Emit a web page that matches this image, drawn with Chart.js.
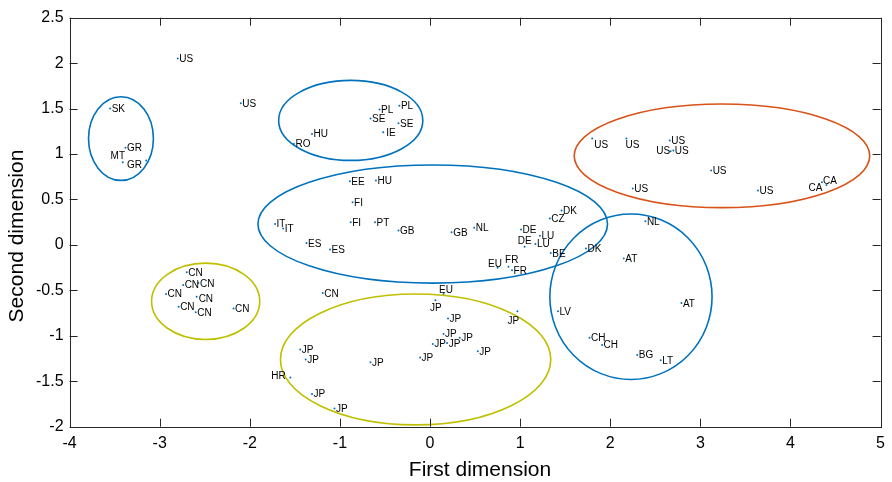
<!DOCTYPE html>
<html>
<head>
<meta charset="utf-8">
<script src="https://cdn.jsdelivr.net/npm/chart.js@4.4.1/dist/chart.umd.min.js"></script>
<style>
    html, body { margin: 0; padding: 0; background: #fff; }
    #wrap { width: 892px; height: 482px; }
</style>
</head>
<body>
<div id="wrap"><canvas id="mdsChart" width="892" height="482"></canvas></div>
<script>
// country labels and their two MDS coordinates
const countries = ['US','US','SK','GR','MT','GR','PL','PL','SE','SE',
    'IE','HU','RO','US','US','US','US','US','US','US',
    'CA','CA','EE','HU','FI','FI','PT','GB','IT','IT',
    'ES','ES','GB','NL','DE','DE','LU','LU','CZ','DK',
    'BE','DK','AT','EU','FR','FR','US','NL','AT','LV',
    'CH','CH','BG','LT','CN','CN','CN','CN','CN','CN',
    'CN','CN','CN','EU','JP','JP','JP','JP','JP','JP',
    'JP','JP','JP','JP','JP','JP','HR','JP','JP'];
const dim1 = [-2.80,-2.10,-3.55,-3.38,-3.41,-3.15,-0.56,-0.34,-0.66,-0.35,
    -0.52,-1.31,-1.51,1.80,2.18,2.66,2.67,2.70,3.12,3.64,
    4.40,4.35,-0.89,-0.60,-0.86,-0.88,-0.61,-0.35,-1.72,-1.63,
    -1.37,-1.11,0.24,0.49,1.01,1.05,1.22,1.17,1.33,1.46,
    1.34,1.73,2.15,0.75,0.87,0.91,2.25,2.39,2.79,1.42,
    1.77,1.91,2.30,2.56,-2.70,-2.74,-2.57,-2.93,-2.59,-2.79,
    -2.60,-2.18,-1.19,0.15,0.06,0.20,0.97,0.15,0.03,0.19,
    0.33,0.53,-0.11,-0.66,-1.44,-1.38,-1.55,-1.31,-1.06];
const dim2 = [2.05,1.56,1.50,1.07,0.91,0.93,1.49,1.53,1.39,1.34,
    1.24,1.22,1.11,1.17,1.17,1.15,1.03,1.04,0.82,0.60,
    0.66,0.69,0.70,0.71,0.47,0.25,0.25,0.16,0.23,0.18,
    0.02,-0.05,0.14,0.19,0.17,-0.02,0.10,0.01,0.29,0.38,
    -0.09,-0.04,-0.15,-0.25,-0.24,-0.28,0.62,0.26,-0.64,-0.73,
    -1.02,-1.10,-1.21,-1.27,-0.30,-0.44,-0.42,-0.54,-0.57,-0.68,
    -0.74,-0.70,-0.53,-0.54,-0.61,-0.81,-0.73,-0.98,-1.09,-1.08,
    -1.02,-1.17,-1.24,-1.29,-1.15,-1.26,-1.46,-1.64,-1.80];

// cluster ellipses (centre and half axes, in data units)
const groupCx = [-3.43, -0.88, 3.24, 0.03, 2.23, -2.49, -0.16];
const groupCy = [1.17, 1.37, 0.98, 0.23, -0.57, -0.62, -1.26];
const groupRx = [0.36, 0.80, 1.64, 1.94, 0.90, 0.60, 1.50];
const groupRy = [0.46, 0.44, 0.57, 0.65, 0.91, 0.42, 0.72];
const groupColors = ['#0072BD','#0072BD','#D95319','#0072BD','#0072BD','#BFBF00','#BFBF00'];

const xTicks = [-4, -3, -2, -1, 0, 1, 2, 3, 4, 5];
const yTicks = [-2, -1.5, -1, -0.5, 0, 0.5, 1, 1.5, 2, 2.5];

// labels that sit somewhere other than just right of their dot: [dx, dy, align]
const labelShift = {
    4: [2.3, -5.6, 'right'], 5: [-4.3, 5, 'right'], 10: [3, 1, 'left'],
    13: [2, 7, 'left'], 14: [-1, 7, 'left'], 16: [-0.5, 0, 'right'],
    20: [-4, 3, 'right'], 21: [1, -1, 'left'], 35: [0, -5.7, 'center'],
    43: [-2.7, -3.3, 'center'], 44: [-3.3, -6.7, 'left'], 58: [2, 3, 'left'],
    63: [2.4, -4, 'center'], 64: [0.5, 8.3, 'center'], 66: [-4, 10.4, 'center'],
    76: [-4.7, -1, 'right']
};

const fontFamily = "'Liberation Sans', Arial, Helvetica, sans-serif";
const axisColor = '#262626';

const points = dim1.map((x, i) => ({ x: x, y: dim2[i] }));

const boxPlugin = {
    id: 'boxPlugin',
    afterDatasetsDraw(chart) {
        const ctx = chart.ctx;
        const xs = chart.scales.x, ys = chart.scales.y;
        const a = chart.chartArea;

        // ellipses
        ctx.save();
        ctx.lineWidth = 1.6;
        groupCx.forEach((cx, i) => {
            const px = xs.getPixelForValue(cx);
            const py = ys.getPixelForValue(groupCy[i]);
            const rx = Math.abs(xs.getPixelForValue(cx + groupRx[i]) - px);
            const ry = Math.abs(ys.getPixelForValue(groupCy[i] + groupRy[i]) - py);
            ctx.strokeStyle = groupColors[i];
            ctx.beginPath();
            ctx.ellipse(px, py, rx, ry, 0, 0, Math.PI * 2);
            ctx.stroke();
        });
        ctx.restore();

        // text labels
        ctx.save();
        ctx.font = '10px ' + fontFamily;
        ctx.fillStyle = '#000';
        ctx.textBaseline = 'middle';
        countries.forEach((name, i) => {
            const s = labelShift[i] || [1.5, 0.7, 'left'];
            ctx.textAlign = s[2];
            ctx.fillText(name, xs.getPixelForValue(dim1[i]) + s[0], ys.getPixelForValue(dim2[i]) + s[1]);
        });
        ctx.restore();

        // box with inward ticks on all sides
        ctx.save();
        ctx.strokeStyle = axisColor;
        ctx.lineWidth = 1;
        ctx.strokeRect(Math.round(a.left) + 0.5, Math.round(a.top) + 0.5,
            Math.round(a.right - a.left), Math.round(a.bottom - a.top));
        ctx.beginPath();
        const tl = 8;
        xTicks.forEach(v => {
            const px = Math.round(xs.getPixelForValue(v)) + 0.5;
            ctx.moveTo(px, a.bottom); ctx.lineTo(px, a.bottom - tl);
            ctx.moveTo(px, a.top); ctx.lineTo(px, a.top + tl);
        });
        yTicks.forEach(v => {
            const py = Math.round(ys.getPixelForValue(v)) + 0.5;
            ctx.moveTo(a.left, py); ctx.lineTo(a.left + tl, py);
            ctx.moveTo(a.right, py); ctx.lineTo(a.right - tl, py);
        });
        ctx.stroke();

        // axis titles
        ctx.fillStyle = '#000';
        ctx.font = '21px ' + fontFamily;
        ctx.textAlign = 'center';
        ctx.textBaseline = 'middle';
        ctx.fillText('First dimension', 480, 470);
        ctx.translate(17, 236);
        ctx.rotate(-Math.PI / 2);
        ctx.fillText('Second dimension', 0, 0);
        ctx.restore();
    }
};

new Chart(document.getElementById('mdsChart'), {
    type: 'scatter',
    data: {
        datasets: [{
            data: points,
            pointRadius: 1,
            pointHoverRadius: 1,
            pointBorderWidth: 0,
            backgroundColor: '#0072BD',
            borderColor: '#0072BD'
        }]
    },
    options: {
        responsive: false,
        animation: false,
        events: [],
        layout: { padding: { left: 0, right: 9.3, top: 17.7, bottom: 0 } },
        plugins: {
            legend: { display: false },
            tooltip: { enabled: false }
        },
        scales: {
            x: {
                type: 'linear',
                min: -4,
                max: 5,
                afterBuildTicks: s => { s.ticks = xTicks.map(v => ({ value: v })); },
                afterFit: s => { s.height = 55.3; },
                grid: { display: false, drawTicks: false },
                border: { display: false },
                ticks: {
                    color: '#000', padding: 7,
                    font: { family: fontFamily, size: 16 },
                    callback: v => String(v)
                }
            },
            y: {
                type: 'linear',
                min: -2,
                max: 2.5,
                afterBuildTicks: s => { s.ticks = yTicks.map(v => ({ value: v })); },
                afterFit: s => { s.width = 69.6; },
                grid: { display: false, drawTicks: false },
                border: { display: false },
                ticks: {
                    color: '#000', padding: 6,
                    font: { family: fontFamily, size: 16 },
                    callback: v => String(v)
                }
            }
        }
    },
    plugins: [boxPlugin]
});
</script>
</body>
</html>
